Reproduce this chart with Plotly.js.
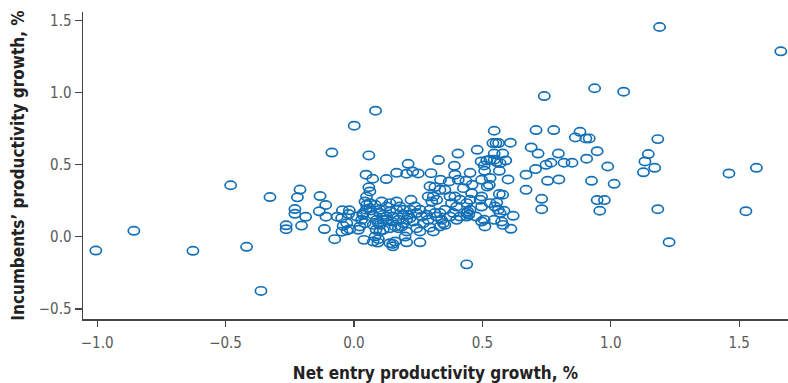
<!DOCTYPE html>
<html>
<head>
<meta charset="utf-8">
<script src="https://cdn.plot.ly/plotly-3.0.1.min.js"></script>
<style>
  html, body { margin: 0; padding: 0; background: #fff; }
  #chart { width: 788px; height: 383px; }
</style>
</head>
<body>
<div id="chart"></div>
<script>
// Net entry productivity growth (%) per industry observation
const netEntryGrowth = [
  -1.005, -0.857, -0.627, -0.480, -0.418, -0.362, -0.327, -0.264, -0.264, -0.230,
  -0.230, -0.220, -0.210, -0.204, -0.188, -0.132, -0.135, -0.110, -0.115, -0.109,
  -0.075, -0.065, -0.045, -0.042, -0.047, -0.027, -0.018, -0.021, -0.016, -0.086,
  0.001, -0.048, -0.028,
  0.084, 0.058, 0.047, 0.073, 0.058, 0.062, 0.049, 0.043, 0.049, 0.062,
  0.011, 0.036, 0.030, 0.043, 0.047, 0.034, 0.023, 0.017, 0.039, 0.062,
  0.065, 0.075, 0.082, 0.086, 0.082, 0.093, 0.075, 0.088, 0.095, 0.075,
  0.101, 0.101, 0.108, 0.101, 0.101, 0.095, 0.126, 0.127, 0.140, 0.114,
  0.114, 0.127, 0.127, 0.114, 0.140, 0.140, 0.140, 0.151, 0.151, 0.147,
  0.153, 0.160, 0.160, 0.166, 0.166, 0.166, 0.173, 0.173, 0.179, 0.186,
  0.192, 0.192, 0.192, 0.199, 0.205, 0.205, 0.205, 0.205, 0.211, 0.211,
  0.218, 0.218, 0.222, 0.229, 0.231, 0.238, 0.244, 0.244, 0.250, 0.257,
  0.257, 0.257, 0.264, 0.270, 0.283, 0.289, 0.289, 0.296, 0.296, 0.296,
  0.300, 0.303, 0.309, 0.309, 0.315, 0.315, 0.322, 0.322, 0.329, 0.337,
  0.335, 0.335, 0.335, 0.341, 0.348, 0.354, 0.354, 0.354, 0.371, 0.374,
  0.374, 0.380, 0.387, 0.391, 0.393, 0.393, 0.400, 0.400, 0.405, 0.406,
  0.413, 0.413, 0.426, 0.436, 0.439, 0.439, 0.439, 0.443, 0.447, 0.439,
  0.452, 0.452, 0.452, 0.458, 0.460, 0.475, 0.480, 0.491, 0.497, 0.497,
  0.497, 0.495, 0.497, 0.507, 0.507, 0.509, 0.510, 0.517, 0.519, 0.527,
  0.530, 0.530, 0.530, 0.541, 0.546, 0.546, 0.546, 0.546, 0.549, 0.553,
  0.556, 0.556, 0.562, 0.563, 0.566, 0.566, 0.569, 0.569, 0.575, 0.579,
  0.579, 0.580, 0.584, 0.591, 0.600, 0.609, 0.611, 0.620, 0.670, 0.670,
  0.690, 0.707, 0.709, 0.717, 0.731, 0.731, 0.741, 0.748, 0.754, 0.767,
  0.778, 0.796, 0.798, 0.818, 0.849, 0.862, 0.880, 0.903, 0.916, 0.906,
  0.925, 0.937, 0.947, 0.947, 0.975, 0.957, 0.988, 1.013, 1.050, 1.127,
  1.133, 1.146, 1.171, 1.183, 1.183, 1.190, 1.227, 1.460, 1.526, 1.567,
  1.662
];

// Incumbents' productivity growth (%) for the same observations
const incumbentGrowth = [
  -0.095, 0.042, -0.097, 0.358, -0.069, -0.375, 0.276, 0.080, 0.053, 0.193,
  0.160, 0.274, 0.328, 0.078, 0.139, 0.283, 0.177, 0.221, 0.054, 0.140,
  -0.016, 0.140, 0.184, 0.076, 0.036, 0.044, 0.184, 0.158, 0.053, 0.585,
  0.771, 0.130, 0.095,
  0.875, 0.565, 0.431, 0.403, 0.344, 0.315, 0.280, 0.245, 0.222, 0.234,
  0.141, 0.165, 0.118, 0.095, 0.188, 0.153, 0.072, 0.049, -0.021, 0.199,
  0.183, 0.153, 0.222, 0.049, 0.002, -0.040, -0.033, 0.118, 0.095, 0.083,
  0.188, 0.165, 0.245, 0.083, 0.037, -0.016, 0.401, 0.210, 0.234, 0.153,
  0.118, 0.118, 0.141, 0.049, 0.060, 0.176, -0.044, -0.066, -0.049, 0.106,
  0.141, 0.072, -0.033, 0.245, 0.188, 0.444, 0.118, 0.060, 0.210, 0.072,
  0.188, 0.153, 0.095, 0.002, -0.038, 0.118, 0.037, 0.438, 0.507, 0.153,
  0.188, 0.130, 0.257, 0.453, 0.106, 0.210, 0.165, 0.060, 0.440, 0.037,
  -0.038, 0.188, 0.141, 0.095, 0.153, 0.280, 0.118, 0.351, 0.188, 0.065,
  0.442, 0.245, 0.280, 0.037, 0.345, 0.165, 0.257, 0.141, 0.533, 0.396,
  0.326, 0.165, 0.072, 0.118, 0.095, 0.326, 0.188, 0.083, 0.384, 0.280,
  0.141, 0.234, 0.165, 0.493, 0.431, 0.280, 0.210, 0.118, 0.578, 0.396,
  0.257, 0.141, 0.338, 0.389, 0.234, 0.165, 0.141, 0.176, 0.153, -0.191,
  0.444, 0.257, 0.188, 0.303, 0.361, 0.141, 0.604, 0.257, 0.280, 0.396,
  0.210, 0.523, 0.106, 0.495, 0.118, 0.458, 0.072, 0.530, 0.349, 0.361,
  0.535, 0.408, 0.234, 0.651, 0.736, 0.578, 0.535, 0.118, 0.210, 0.651,
  0.519, 0.238, 0.188, 0.651, 0.458, 0.297, 0.512, 0.165, 0.106, 0.578,
  0.292, 0.083, 0.181, 0.530, 0.398, 0.653, 0.056, 0.146, 0.431, 0.326,
  0.620, 0.470, 0.741, 0.578, 0.264, 0.192, 0.977, 0.500, 0.389, 0.514,
  0.741, 0.578, 0.398, 0.514, 0.514, 0.690, 0.729, 0.683, 0.683, 0.542,
  0.389, 1.031, 0.594, 0.255, 0.255, 0.181, 0.488, 0.368, 1.007, 0.448,
  0.523, 0.574, 0.479, 0.678, 0.192, 1.456, -0.037, 0.440, 0.178, 0.479,
  1.287
];

const xTickValues = [-1, -0.5, 0, 0.5, 1, 1.5];
const yTickValues = [-0.5, 0, 0.5, 1, 1.5];

const xTitle = 'Net entry productivity growth, %';
const yTitle = 'Incumbents\u2019 productivity growth, %';

const markColor = '#1370b7';
const fontStack = '"DejaVu Sans Condensed", "Liberation Sans Narrow", Roboto, sans-serif';
const tickFont = { family: fontStack, size: 15, color: '#5a5a5a' };
const titleFont = { family: fontStack, size: 17, color: '#222', weight: 'bold' };

const trace = {
  type: 'scatter',
  mode: 'markers',
  x: netEntryGrowth,
  y: incumbentGrowth,
  marker: {
    symbol: 'circle-open',
    size: 9,
    color: markColor,
    line: { width: 1.7, color: markColor }
  },
  hoverinfo: 'x+y'
};

const axisCommon = {
  showgrid: false,
  zeroline: false,
  showline: true,
  linecolor: '#444',
  linewidth: 1.5,
  ticks: 'outside',
  tickcolor: '#444',
  tickwidth: 1.2,
  tickformat: '.1f',
  tickfont: tickFont
};

const layout = {
  width: 788,
  height: 383,
  margin: { l: 83, r: 0, t: 12, b: 64 },
  paper_bgcolor: '#fff',
  plot_bgcolor: '#fff',
  showlegend: false,
  xaxis: Object.assign({}, axisCommon, {
    range: [-1.055, 1.69],
    tickvals: xTickValues,
    ticklen: 6,
    ticklabelstandoff: 3,
    title: { text: xTitle, font: titleFont, standoff: 16 }
  }),
  yaxis: Object.assign({}, axisCommon, {
    range: [-0.57, 1.56],
    tickvals: yTickValues,
    ticklen: 7,
    title: { text: yTitle, font: titleFont, standoff: 10 }
  })
};

Plotly.newPlot('chart', [trace], layout, { displayModeBar: false, staticPlot: true }).then(function (gd) {
  // Stretch the open markers into flat ellipses, keeping a constant stroke
  gd.querySelectorAll('.scatterlayer path.point').forEach(function (p) {
    const t = p.getAttribute('transform') || '';
    p.setAttribute('transform', t + ' scale(1.25,0.92)');
    p.style.vectorEffect = 'non-scaling-stroke';
  });
});
</script>
</body>
</html>
